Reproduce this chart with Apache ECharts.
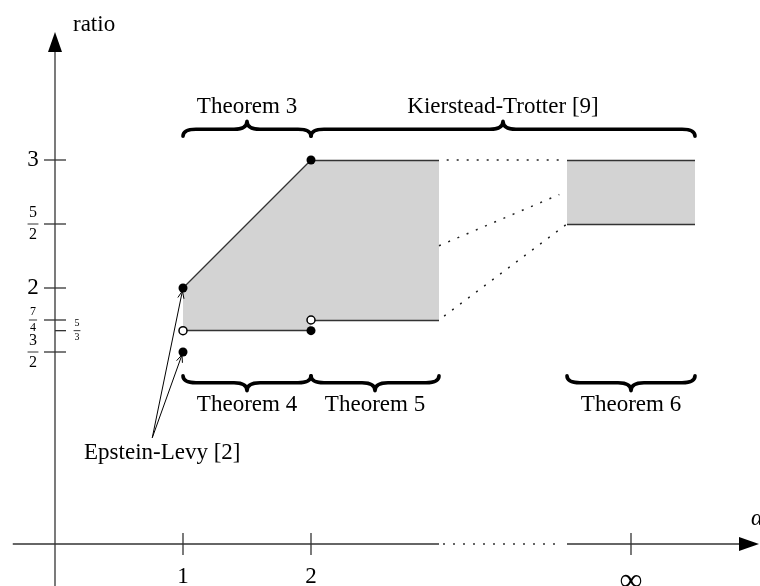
<!DOCTYPE html>
<html>
<head>
<meta charset="utf-8">
<title>ratio by alpha</title>
<script src="https://cdn.jsdelivr.net/npm/echarts@6/dist/echarts.min.js"></script>
<style>
  html, body { margin: 0; padding: 0; background: #fff; }
  #chart { width: 760px; height: 586px; }
</style>
</head>
<body>
<div id="chart"></div>
<script>
// ---- data (x = alpha, y = ratio) ----
var xTicks = [1, 2, 4.5];
var xTickLabels = ['1', '2', '\u221e'];
var yTicks = [3, 5 / 2, 2, 7 / 4, 3 / 2];
var yTickLabels = ['3', '5/2', '2', '7/4', '3/2'];
var sideTicks = [5 / 3];
var sideTickLabels = ['5/3'];
var xBreak = [3, 4];            // dotted stretch of the alpha axis

var regionLow = [[1, 2], [2, 3], [3, 3], [3, 7 / 4], [2, 7 / 4], [2, 5 / 3], [1, 5 / 3]];
var regionHigh = [[4, 3], [5, 3], [5, 5 / 2], [4, 5 / 2]];
var solidEdges = [
    [[1, 2], [2, 3]], [[2, 3], [3, 3]],
    [[1, 5 / 3], [2, 5 / 3]], [[2, 7 / 4], [3, 7 / 4]],
    [[4, 3], [5, 3]], [[4, 5 / 2], [5, 5 / 2]]
];
var dottedLinks = [
    [[3.06, 3], [3.95, 3]],
    [[3, 2.33], [3.94, 2.73]],
    [[3.04, 1.78], [4, 5 / 2]]
];
var closedDots = [[1, 2], [1, 3 / 2], [2, 3], [2, 5 / 3]];
var openDots = [[1, 5 / 3], [2, 7 / 4]];

var topBraceFrom = [1, 2];
var topBraceTo = [2, 5];
var topBraceLabels = ['Theorem 3', 'Kierstead-Trotter [9]'];
var bottomBraceFrom = [1, 2, 4];
var bottomBraceTo = [2, 3, 5];
var bottomBraceLabels = ['Theorem 4', 'Theorem 5', 'Theorem 6'];

var epsteinFoot = [0.76, 0.83];
var epsteinTargets = [[1, 2], [1, 3 / 2]];
var epsteinLabel = 'Epstein-Levy [2]';

// ---- drawing ----
var FONT = '"Liberation Serif", "DejaVu Serif", serif';
var INK = '#000';
var EDGE = '#333';
var SHADE = '#d3d3d3';

var AXIS_TAIL = -0.33;
var Y_TIP = 4;
var X_TIP = 5.5;
var TOP_LEVEL = 3.24;
var BOTTOM_LEVEL = 1.26;
var regions = [regionLow, regionHigh];

function text(str, x, y, size, align, italic) {
    return {
        type: 'text',
        style: {
            text: str, x: x, y: y,
            font: (italic ? 'italic ' : '') + size + 'px ' + FONT,
            fill: INK,
            textAlign: align || 'center',
            textVerticalAlign: 'middle'
        }
    };
}

function seg(p, q, w, dash) {
    return {
        type: 'line',
        shape: {x1: p[0], y1: p[1], x2: q[0], y2: q[1]},
        style: {stroke: EDGE, lineWidth: w || 1.3, lineDash: dash || null}
    };
}

function tickLabel(label, cx, cy, size) {
    var parts = label.split('/');
    if (parts.length < 2) return [text(label, cx, cy, size)];
    var off = size * 0.68, half = size * 0.34;
    return [
        text(parts[0], cx, cy - off, size),
        text(parts[1], cx, cy + off, size),
        {type: 'line', shape: {x1: cx - half, y1: cy, x2: cx + half, y2: cy},
         style: {stroke: INK, lineWidth: 0.8}}
    ];
}

var fracSize = {'5/2': 16, '3/2': 16, '7/4': 12, '5/3': 10};

function renderAxes(params, api) {
    var yTail = api.coord([0, AXIS_TAIL]);
    var yTip = api.coord([0, Y_TIP]);
    var xTail = api.coord([AXIS_TAIL, 0]);
    var gapA = api.coord([xBreak[0], 0]);
    var gapB = api.coord([xBreak[1], 0]);
    var xTip = api.coord([X_TIP, 0]);
    var kids = [];

    kids.push(seg(yTail, [yTip[0], yTip[1] + 12]));
    kids.push(seg(xTail, gapA));
    kids.push(seg([gapA[0] + 4, gapA[1]], [gapB[0] - 4, gapB[1]], 1.5, [2, 8]));
    kids.push(seg(gapB, [xTip[0] - 12, xTip[1]]));
    kids.push({type: 'polygon', shape: {points: [
        [yTip[0], yTip[1]], [yTip[0] - 7, yTip[1] + 20], [yTip[0] + 7, yTip[1] + 20]]},
        style: {fill: INK}});
    kids.push({type: 'polygon', shape: {points: [
        [xTip[0], xTip[1]], [xTip[0] - 20, xTip[1] - 7], [xTip[0] - 20, xTip[1] + 7]]},
        style: {fill: INK}});

    yTicks.forEach(function (v, i) {
        var p = api.coord([0, v]);
        kids.push(seg([p[0] - 11, p[1]], [p[0] + 11, p[1]]));
        var lab = yTickLabels[i];
        kids = kids.concat(tickLabel(lab, p[0] - 22, p[1], fracSize[lab] || 23));
    });
    sideTicks.forEach(function (v, i) {
        var p = api.coord([0, v]);
        kids.push(seg(p, [p[0] + 11, p[1]]));
        var lab = sideTickLabels[i];
        kids = kids.concat(tickLabel(lab, p[0] + 22, p[1], fracSize[lab] || 10));
    });
    xTicks.forEach(function (v, i) {
        var p = api.coord([v, 0]);
        kids.push(seg([p[0], p[1] - 11], [p[0], p[1] + 11]));
        var lab = xTickLabels[i];
        if (lab === '\u221e') {
            kids.push(text(lab, p[0], p[1] + 38, 32));
        } else {
            kids.push(text(lab, p[0], p[1] + 33, 23));
        }
    });

    kids.push(text('ratio', yTip[0] + 18, yTip[1] - 7, 23, 'left'));
    kids.push(text('\u03b1', xTip[0] - 8, xTip[1] - 25, 23, 'left', true));
    return {type: 'group', children: kids};
}

function bracePath(x1, x2, y, dir) {
    var m = (x1 + x2) / 2, r = 13, e = 7, t = 8;
    return 'M' + x1 + ',' + (y - dir * e) +
        ' Q' + x1 + ',' + y + ' ' + (x1 + r) + ',' + y +
        ' L' + (m - r) + ',' + y +
        ' Q' + m + ',' + y + ' ' + m + ',' + (y + dir * t) +
        ' Q' + m + ',' + y + ' ' + (m + r) + ',' + y +
        ' L' + (x2 - r) + ',' + y +
        ' Q' + x2 + ',' + y + ' ' + x2 + ',' + (y - dir * e);
}

function braceRenderer(level, dir, labels) {
    return function (params, api) {
        var a = api.coord([api.value(0), level]);
        var b = api.coord([api.value(1), level]);
        return {type: 'group', children: [
            {type: 'path', shape: {pathData: bracePath(a[0], b[0], a[1], dir)},
             style: {fill: 'none', stroke: INK, lineWidth: 3.6, lineCap: 'round', lineJoin: 'round'}},
            text(labels[params.dataIndex], (a[0] + b[0]) / 2, a[1] + dir * 22, 23)
        ]};
    };
}

function renderEpstein(params, api) {
    var f = api.coord(epsteinFoot);
    var t = api.coord(epsteinTargets[params.dataIndex]);
    var dx = t[0] - f[0], dy = t[1] - f[1];
    var len = Math.sqrt(dx * dx + dy * dy);
    var ux = dx / len, uy = dy / len;
    var tip = [t[0] - ux * 3, t[1] - uy * 3];
    var ang = 0.4, hl = 8;
    var ca = Math.cos(ang), sa = Math.sin(ang);
    var l1 = [tip[0] - hl * (ux * ca - uy * sa), tip[1] - hl * (uy * ca + ux * sa)];
    var l2 = [tip[0] - hl * (ux * ca + uy * sa), tip[1] - hl * (uy * ca - ux * sa)];
    var kids = [
        {type: 'line', shape: {x1: f[0], y1: f[1], x2: tip[0], y2: tip[1]},
         style: {stroke: INK, lineWidth: 1}},
        {type: 'polyline', shape: {points: [l1, tip, l2]},
         style: {stroke: INK, lineWidth: 1, fill: null}}
    ];
    if (params.dataIndex === 0) {
        kids.push(text(epsteinLabel, f[0] + 10, f[1] + 15, 23));
    }
    return {type: 'group', children: kids};
}

var chart = echarts.init(document.getElementById('chart'));
var option = {
    animation: false,
    grid: {left: 0, right: 0, top: 0, bottom: 0},
    xAxis: {type: 'value', min: -55 / 128, max: 705 / 128, show: false},
    yAxis: {type: 'value', min: -42 / 128, max: 544 / 128, show: false},
    series: [
        {
            type: 'custom', z: 1, silent: true,
            data: regions.map(function (r, i) { return [i, 0]; }),
            renderItem: function (params, api) {
                var pts = regions[params.dataIndex].map(function (p) { return api.coord(p); });
                return {type: 'polygon', shape: {points: pts}, style: {fill: SHADE}};
            }
        },
        {
            type: 'custom', z: 2, silent: true,
            data: [[0, 0]],
            renderItem: renderAxes
        },
        {
            type: 'lines', coordinateSystem: 'cartesian2d', z: 3, silent: true,
            data: solidEdges.map(function (e) { return {coords: e}; }),
            lineStyle: {color: EDGE, width: 1.3, opacity: 1}
        },
        {
            type: 'lines', coordinateSystem: 'cartesian2d', z: 3, silent: true,
            data: dottedLinks.map(function (e) { return {coords: e}; }),
            lineStyle: {color: '#222', width: 1.5, opacity: 1, type: [2, 8]}
        },
        {
            type: 'custom', z: 4, silent: true,
            data: topBraceFrom.map(function (v, i) { return [v, topBraceTo[i]]; }),
            renderItem: braceRenderer(TOP_LEVEL, -1, topBraceLabels)
        },
        {
            type: 'custom', z: 4, silent: true,
            data: bottomBraceFrom.map(function (v, i) { return [v, bottomBraceTo[i]]; }),
            renderItem: braceRenderer(BOTTOM_LEVEL, 1, bottomBraceLabels)
        },
        {
            type: 'custom', z: 4, silent: true,
            data: epsteinTargets,
            renderItem: renderEpstein
        },
        {
            type: 'scatter', z: 5, silent: true,
            data: closedDots, symbol: 'circle', symbolSize: 9,
            itemStyle: {color: INK, opacity: 1}
        },
        {
            type: 'scatter', z: 5, silent: true,
            data: openDots, symbol: 'circle', symbolSize: 8,
            itemStyle: {color: '#fff', borderColor: INK, borderWidth: 1.5, opacity: 1}
        }
    ]
};
chart.setOption(option);
</script>
</body>
</html>
